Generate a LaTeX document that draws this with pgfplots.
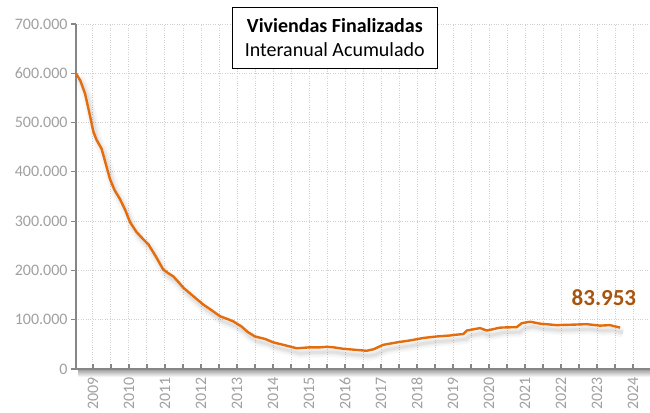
\documentclass[border=0pt]{standalone}
\usepackage{fontspec}
\setmainfont{Carlito}
\usepackage{pgfplots}
\usepackage{pgfplotstable}
\pgfplotsset{compat=1.18}
\definecolor{lineor}{HTML}{E46C0A}
\definecolor{annot}{HTML}{A8540E}
\definecolor{ticklab}{HTML}{A0A0A0}
\definecolor{axgray}{HTML}{868686}
\definecolor{gridgray}{HTML}{CFCFCF}
\pgfplotstableread{
x y
2008.53 600000
2008.65 585000
2008.78 559000
2008.90 520000
2009.01 482000
2009.10 465000
2009.24 447000
2009.35 418000
2009.47 386000
2009.60 363000
2009.75 345000
2009.90 322000
2010.03 298000
2010.21 278000
2010.40 263000
2010.54 253000
2010.75 228000
2010.95 202000
2011.10 194000
2011.23 188000
2011.38 176000
2011.51 165000
2011.80 147000
2012.06 131000
2012.30 119000
2012.53 107000
2012.75 101000
2012.90 96500
2013.13 86000
2013.30 75000
2013.50 66000
2013.78 61000
2014.01 54000
2014.29 49000
2014.66 42000
2015.03 44000
2015.31 44000
2015.50 45000
2015.68 44000
2015.95 41000
2016.28 39000
2016.60 37000
2016.79 40000
2017.06 49000
2017.44 54000
2017.81 58000
2018.18 63000
2018.55 66000
2018.92 68000
2019.01 69000
2019.29 71000
2019.38 78000
2019.75 83000
2019.94 78000
2020.31 84000
2020.77 85000
2020.91 93000
2021.14 96000
2021.42 92000
2021.88 89000
2022.34 90000
2022.71 91000
2023.08 88000
2023.36 89000
2023.64 83953
}\data
\begin{document}
\begin{tikzpicture}
\path[use as bounding box] (0pt,0pt) rectangle (650pt,412pt);
\fill[top color=black!35, bottom color=white] (78pt,35pt) rectangle (650pt,42pt);
\begin{axis}[
  at={(76pt,43pt)}, anchor=south west,
  scale only axis, width=574pt, height=345pt,
  xmin=2008.53, xmax=2024.47, ymin=0, ymax=700000,
  axis x line*=bottom, axis y line*=left,
  axis line style={axgray, line width=1.8pt},
  xtick={2009,2010,...,2024},
  minor xtick={2009.5,2010.5,...,2023.5},
  ytick={0,100000,...,700000},
  scaled y ticks=false,
  /pgf/number format/assume math mode=true,
  tick align=outside,
  major tick length=5pt, minor tick length=5pt,
  tick style={axgray, line width=1.2pt},
  x tick style={yshift=5pt},
  grid=both,
  major grid style={gridgray, dotted, line width=0.9pt},
  minor grid style={gridgray, dotted, line width=0.9pt},
  tick label style={font=\fontsize{16}{16}\selectfont, text=ticklab},
  y tick label style={/pgf/number format/fixed, /pgf/number format/1000 sep={.}},
  x tick label style={rotate=90, anchor=east, /pgf/number format/1000 sep={}},
]
\addplot[black, opacity=0.03, line width=10pt, line join=round, transform canvas={xshift=3pt, yshift=-5pt}] table[x=x,y=y]{\data};
\addplot[black, opacity=0.04, line width=6pt, line join=round, transform canvas={xshift=3pt, yshift=-5pt}] table[x=x,y=y]{\data};
\addplot[black, opacity=0.05, line width=3pt, line join=round, transform canvas={xshift=3pt, yshift=-5pt}] table[x=x,y=y]{\data};
\addplot[lineor, line width=2.4pt, line join=round] table[x=x,y=y]{\data};
\node[font=\fontsize{23}{23}\selectfont\bfseries, text=annot] at (axis cs:2023.19,145000) {83.953};
\end{axis}
\node[draw=black, line width=0.9pt, fill=white, minimum width=205pt, minimum height=61pt, align=center, font=\fontsize{20}{24}\selectfont, inner sep=0pt] at (334.8pt,374.2pt) {\textbf{Viviendas Finalizadas}\\Interanual Acumulado};
\end{tikzpicture}
\end{document}
